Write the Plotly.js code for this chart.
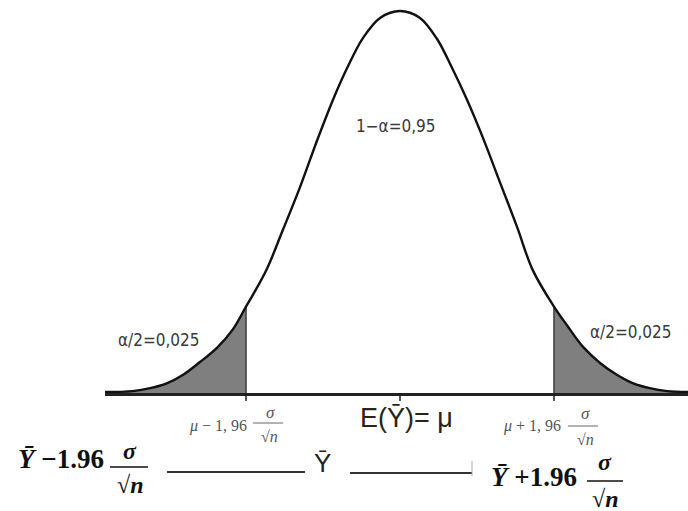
<!DOCTYPE html>
<html>
<head>
<meta charset="utf-8">
<script src="https://cdn.plot.ly/plotly-3.0.1.min.js"></script>
<style>
  html, body { margin: 0; padding: 0; background: #fff; }
  #chart { width: 688px; height: 511px; }
</style>
</head>
<body>
<div id="chart"></div>
<script>
// ---- data (x in σ/√n units around μ, y = density) ----
const curveX = [-3.82, -3.40, -3.18, -2.97, -2.76, -2.55, -2.33, -2.13, -1.96, -1.86, -1.69, -1.49, -1.27, -1.06, -0.85, -0.67, -0.47, -0.25, 0,
                0.25, 0.47, 0.66, 0.85, 1.06, 1.27, 1.49, 1.69, 1.96, 2.13, 2.33, 2.55, 2.76, 2.97, 3.18, 3.40, 3.67];
const curveY = [0.001, 0.002, 0.005, 0.010, 0.019, 0.032, 0.047, 0.066, 0.090, 0.104, 0.130, 0.170, 0.215, 0.262, 0.306, 0.339, 0.370, 0.391, 0.398,
                0.391, 0.369, 0.339, 0.306, 0.265, 0.220, 0.173, 0.128, 0.090, 0.070, 0.048, 0.031, 0.019, 0.010, 0.005, 0.002, 0.001];
const boundaries = [-1.96, 1.96];
const tickVals = [-1.96, 0, 1.96];
const tailLabel = "α/2=0,025";
const centerLabel = "1−α=0,95";
const lowerTick = "μ − 1, 96";
const upperTick = "μ + 1, 96";
const meanLabel = "E(Ȳ)= μ";
const lowerCI = "<b><i>Ȳ</i> −1.96</b>";
const upperCI = "<b><i>Ȳ</i> +1.96</b>";
const sigma = "σ";
const sqrtN = "√<i>n</i>";
const middleLabel = "Ȳ";

// ---- geometry helpers (pixel -> paper) ----
const L = 105, W = 583, H = 393;
const px = x => (x - L) / W;
const py = y => (H - y) / H;

const leftCount = curveX.filter(x => x <= boundaries[0]).length;
const leftX = curveX.slice(0, leftCount);
const leftY = curveY.slice(0, leftCount);
const rightStart = curveX.indexOf(boundaries[1]);
const rightX = curveX.slice(rightStart);
const rightY = curveY.slice(rightStart);

const SM = 1.0;
const traces = [
  {x: leftX, y: leftY, mode: 'lines', fill: 'tozeroy', fillcolor: '#7f7f7f', line: {width: 0, shape: 'spline', smoothing: SM}, hoverinfo: 'skip'},
  {x: rightX, y: rightY, mode: 'lines', fill: 'tozeroy', fillcolor: '#7f7f7f', line: {width: 0, shape: 'spline', smoothing: SM}, hoverinfo: 'skip'}
];
boundaries.forEach(b => {
  traces.push({x: [b, b], y: [0, curveY[curveX.indexOf(b)]], mode: 'lines',
               line: {color: '#444', width: 1.6}, hoverinfo: 'skip'});
});
traces.push({x: curveX, y: curveY, mode: 'lines', line: {color: '#111', width: 2.4, shape: 'spline', smoothing: SM}, hoverinfo: 'skip'});

const narrow = 'Liberation Sans Narrow, DejaVu Sans Condensed, Arial Narrow, sans-serif';
const serif = 'Liberation Serif, DejaVu Serif, Times New Roman, serif';
const sans = 'Liberation Sans, Arial, sans-serif';

function ann(text, x, y, size, family, color) {
  return {text: text, x: px(x), y: py(y), xref: 'paper', yref: 'paper', showarrow: false,
          xanchor: 'center', yanchor: 'middle', font: {size: size, family: family, color: color}};
}
function seg(x0, y0, x1, y1, color, width) {
  return {type: 'line', xref: 'paper', yref: 'paper', x0: px(x0), y0: py(y0), x1: px(x1), y1: py(y1),
          line: {color: color, width: width}};
}

const annotations = [
  ann(tailLabel, 159, 340, 17, narrow, '#3a3a3a'),
  ann(tailLabel, 631, 332, 17, narrow, '#3a3a3a'),
  ann(centerLabel, 396, 126, 17, narrow, '#3a3a3a'),
  ann(lowerTick.replace('μ', '<i>μ</i>'), 218, 426, 16, serif, '#555'),
  ann('<i>' + sigma + '</i>', 270, 412, 17, serif, '#555'),
  ann(sqrtN, 269, 437, 16, serif, '#555'),
  ann(upperTick.replace('μ', '<i>μ</i>'), 532, 426, 16, serif, '#555'),
  ann('<i>' + sigma + '</i>', 585, 413, 17, serif, '#555'),
  ann(sqrtN, 585, 439, 16, serif, '#555'),
  ann(meanLabel, 406, 418, 27, sans, '#2a2418'),
  ann(lowerCI, 61, 459, 27, serif, '#111'),
  ann('<b><i>' + sigma + '</i></b>', 130, 451, 24, serif, '#111'),
  ann('<b>√<i>n</i></b>', 130, 485, 24, serif, '#111'),
  ann(middleLabel, 322, 463, 26, sans, '#222'),
  ann(upperCI, 534, 477, 27, serif, '#111'),
  ann('<b><i>' + sigma + '</i></b>', 605, 462, 24, serif, '#111'),
  ann('<b>√<i>n</i></b>', 605, 499, 24, serif, '#111')
];

const shapes = [
  seg(253, 423, 283, 423, '#666', 1),
  seg(568, 426, 598, 426, '#666', 1),
  seg(110, 467, 148, 467, '#111', 1.5),
  seg(587, 481, 623, 481, '#111', 1.5),
  seg(167, 472, 305, 472, '#333', 2),
  seg(350, 473, 472, 473, '#333', 2),
  seg(472, 461, 472, 476, '#aaa', 1)
];

const layout = {
  width: 688, height: 511,
  margin: {l: L, r: 0, t: 0, b: 511 - H, pad: 0},
  paper_bgcolor: '#fff', plot_bgcolor: '#fff',
  showlegend: false,
  xaxis: {range: [-3.755, 3.666], showgrid: false, zeroline: false, showline: true,
          linecolor: '#222', linewidth: 2.5, ticks: 'outside', tickvals: tickVals, ticklen: 5,
          tickcolor: '#555', tickwidth: 1.2, showticklabels: false, fixedrange: true},
  yaxis: {range: [0, 0.4094], showgrid: false, zeroline: false, showline: false,
          showticklabels: false, ticks: '', fixedrange: true},
  annotations: annotations,
  shapes: shapes
};

Plotly.newPlot('chart', traces, layout, {staticPlot: true, displayModeBar: false});
</script>
</body>
</html>
